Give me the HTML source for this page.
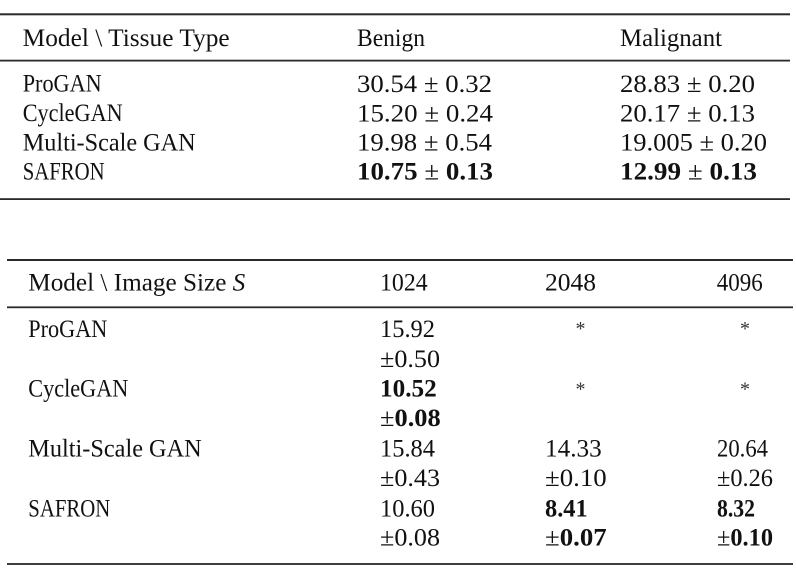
<!DOCTYPE html>
<html>
<head>
<meta charset="utf-8">
<style>
html,body{margin:0;padding:0;background:#fff;}
svg{display:block;}
text{font-family:"Liberation Serif",serif;font-size:25px;fill:#111;}
.b{font-weight:bold;}
.ast{font-size:20px;fill:#333;}
</style>
</head>
<body>
<svg width="796" height="574" viewBox="0 0 796 574" xmlns="http://www.w3.org/2000/svg">
<rect width="796" height="574" fill="#fff"/>
<!-- Table 1 rules -->
<rect x="0" y="13.3" width="790" height="2" fill="#2a2a2a"/>
<rect x="0" y="59.7" width="790" height="1.8" fill="#2a2a2a"/>
<rect x="0" y="198.2" width="790" height="1.8" fill="#2a2a2a"/>

<!-- Table 1 header -->
<text x="22.7" y="46" textLength="207" lengthAdjust="spacingAndGlyphs">Model \ Tissue Type</text>
<text x="357" y="46" textLength="68" lengthAdjust="spacingAndGlyphs">Benign</text>
<text x="620" y="46" textLength="102" lengthAdjust="spacingAndGlyphs">Malignant</text>

<!-- Table 1 rows -->
<text x="22.7" y="91.7" textLength="79" lengthAdjust="spacingAndGlyphs">ProGAN</text>
<text x="22.7" y="121.2" textLength="100" lengthAdjust="spacingAndGlyphs">CycleGAN</text>
<text x="22.7" y="150.6" textLength="173" lengthAdjust="spacingAndGlyphs">Multi-Scale GAN</text>
<text x="22.7" y="179.6" textLength="82" lengthAdjust="spacingAndGlyphs">SAFRON</text>

<text x="357" y="92" textLength="135" lengthAdjust="spacingAndGlyphs">30.54 ± 0.32</text>
<text x="357" y="121.4" textLength="136" lengthAdjust="spacingAndGlyphs">15.20 ± 0.24</text>
<text x="357" y="150.6" textLength="135" lengthAdjust="spacingAndGlyphs">19.98 ± 0.54</text>
<text x="357" y="179.6" textLength="136" lengthAdjust="spacingAndGlyphs"><tspan class="b">10.75</tspan> ± <tspan class="b">0.13</tspan></text>

<text x="620" y="92" textLength="135" lengthAdjust="spacingAndGlyphs">28.83 ± 0.20</text>
<text x="620" y="121.4" textLength="135" lengthAdjust="spacingAndGlyphs">20.17 ± 0.13</text>
<text x="620" y="150.6" textLength="147" lengthAdjust="spacingAndGlyphs">19.005 ± 0.20</text>
<text x="620" y="179.6" textLength="137" lengthAdjust="spacingAndGlyphs"><tspan class="b">12.99</tspan> ± <tspan class="b">0.13</tspan></text>

<!-- Table 2 rules -->
<rect x="7" y="259" width="786" height="2" fill="#2a2a2a"/>
<rect x="7" y="306.4" width="786" height="1.8" fill="#2a2a2a"/>
<rect x="7" y="563.1" width="786" height="1.8" fill="#2a2a2a"/>

<!-- Table 2 header -->
<text x="28.3" y="290.7" textLength="217" lengthAdjust="spacingAndGlyphs">Model \ Image Size <tspan font-style="italic">S</tspan></text>
<text x="380" y="290.7" textLength="47.7" lengthAdjust="spacingAndGlyphs">1024</text>
<text x="545" y="290.7" textLength="51" lengthAdjust="spacingAndGlyphs">2048</text>
<text x="716.7" y="290.7" textLength="46" lengthAdjust="spacingAndGlyphs">4096</text>

<!-- Table 2 model names -->
<text x="28.3" y="337.2" textLength="79" lengthAdjust="spacingAndGlyphs">ProGAN</text>
<text x="28.3" y="396.7" textLength="100" lengthAdjust="spacingAndGlyphs">CycleGAN</text>
<text x="28.3" y="456.4" textLength="173.4" lengthAdjust="spacingAndGlyphs">Multi-Scale GAN</text>
<text x="28.3" y="516.3" textLength="82" lengthAdjust="spacingAndGlyphs">SAFRON</text>

<!-- 1024 column -->
<text x="380" y="337.2" textLength="55" lengthAdjust="spacingAndGlyphs">15.92</text>
<text x="380" y="366.8" textLength="60" lengthAdjust="spacingAndGlyphs">±0.50</text>
<text x="380" y="396.7" textLength="56.7" lengthAdjust="spacingAndGlyphs" class="b">10.52</text>
<text x="380" y="426.2" textLength="60.7" lengthAdjust="spacingAndGlyphs">±<tspan class="b">0.08</tspan></text>
<text x="380" y="456.4" textLength="55" lengthAdjust="spacingAndGlyphs">15.84</text>
<text x="380" y="485.9" textLength="60" lengthAdjust="spacingAndGlyphs">±0.43</text>
<text x="380" y="516.3" textLength="55" lengthAdjust="spacingAndGlyphs">10.60</text>
<text x="380" y="545.7" textLength="60" lengthAdjust="spacingAndGlyphs">±0.08</text>

<!-- 2048 column -->
<text class="ast" x="580.5" y="334.8" text-anchor="middle">*</text>
<text class="ast" x="580.5" y="395.6" text-anchor="middle">*</text>
<text x="545" y="456.4" textLength="56.7" lengthAdjust="spacingAndGlyphs">14.33</text>
<text x="545" y="485.9" textLength="61.7" lengthAdjust="spacingAndGlyphs">±0.10</text>
<text x="545" y="516.3" textLength="42.7" lengthAdjust="spacingAndGlyphs" class="b">8.41</text>
<text x="545" y="545.7" textLength="61.7" lengthAdjust="spacingAndGlyphs">±<tspan class="b">0.07</tspan></text>

<!-- 4096 column -->
<text class="ast" x="745" y="334.8" text-anchor="middle">*</text>
<text class="ast" x="745" y="395.6" text-anchor="middle">*</text>
<text x="717" y="456.4" textLength="51" lengthAdjust="spacingAndGlyphs">20.64</text>
<text x="717" y="485.9" textLength="56" lengthAdjust="spacingAndGlyphs">±0.26</text>
<text x="717" y="516.3" textLength="38" lengthAdjust="spacingAndGlyphs" class="b">8.32</text>
<text x="717" y="545.7" textLength="56" lengthAdjust="spacingAndGlyphs">±<tspan class="b">0.10</tspan></text>
</svg>
</body>
</html>
